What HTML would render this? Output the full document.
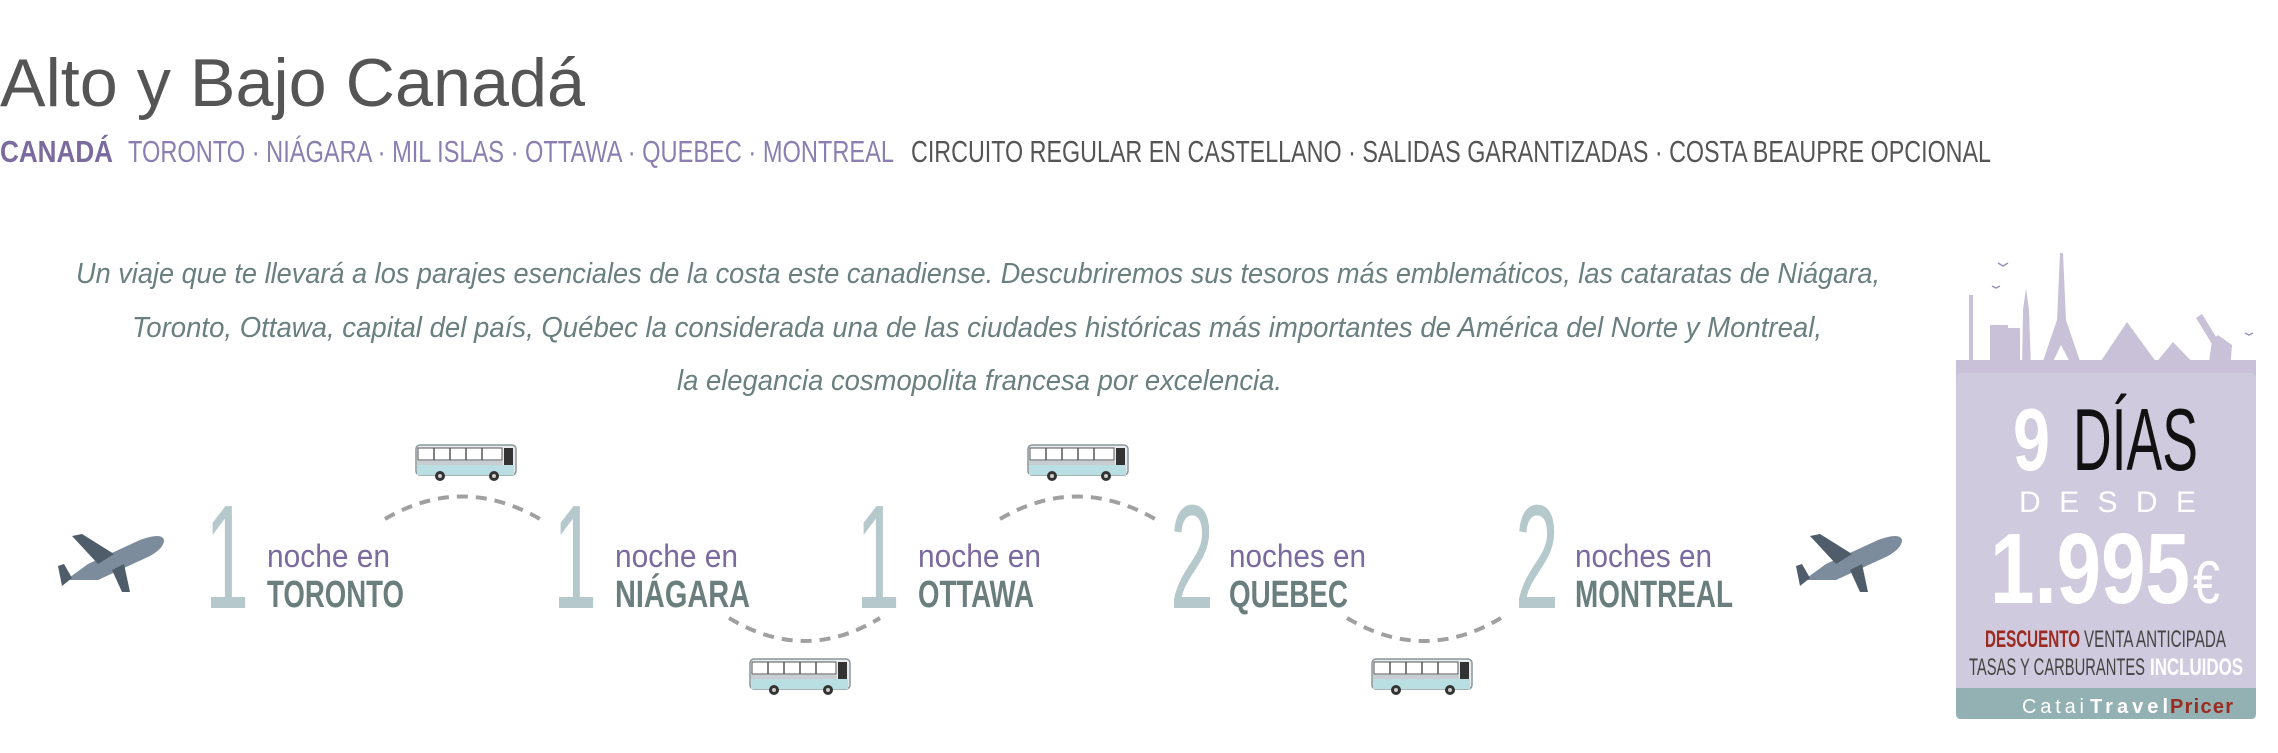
<!DOCTYPE html>
<html><head><meta charset="utf-8"><style>
html,body{margin:0;padding:0;background:#fff;}
svg{display:block}
</style></head><body>
<svg width="2278" height="753" viewBox="0 0 2278 753" xmlns="http://www.w3.org/2000/svg" font-family="Liberation Sans, sans-serif">
<defs>
<g id="bus">
  <rect x="2" y="2" width="100" height="30" rx="4" fill="#e8ecee" stroke="#8a9598" stroke-width="1.5"/>
  <rect x="4" y="5" width="84" height="12" fill="#fff" stroke="#555" stroke-width="1"/>
  <line x1="20" y1="5" x2="20" y2="17" stroke="#555" stroke-width="1.5"/>
  <line x1="36" y1="5" x2="36" y2="17" stroke="#555" stroke-width="1.5"/>
  <line x1="52" y1="5" x2="52" y2="17" stroke="#555" stroke-width="1.5"/>
  <line x1="68" y1="5" x2="68" y2="17" stroke="#555" stroke-width="1.5"/>
  <rect x="90" y="5" width="9" height="22" fill="#333"/>
  <rect x="3" y="18" width="86" height="4" fill="#c7cdd1"/>
  <rect x="3" y="22" width="97" height="10" fill="#b9dfe2"/>
  <circle cx="26" cy="33" r="5" fill="#333"/><circle cx="26" cy="33" r="2" fill="#ccc"/>
  <circle cx="80" cy="33" r="5" fill="#333"/><circle cx="80" cy="33" r="2" fill="#ccc"/>
</g>
<g id="plane">
  <path d="M8 46 L30 30 L82 6 Q104 -2 106 6 Q106 14 92 22 L40 46 Z" fill="#7c8c9c"/>
  <path d="M56 20 L24 0 L14 2 L40 30 Z" fill="#4f5d6b"/>
  <path d="M54 36 L64 58 L72 58 L66 30 Z" fill="#4f5d6b"/>
  <path d="M14 44 L6 30 L0 32 L4 52 Z" fill="#4f5d6b"/>
</g>
</defs>

<text x="0" y="106" font-size="68" fill="#555" textLength="585" lengthAdjust="spacingAndGlyphs">Alto y Bajo Canadá</text>
<text x="0" y="162" font-size="31" font-weight="bold" fill="#7a6a9e" textLength="113" lengthAdjust="spacingAndGlyphs">CANADÁ</text>
<text x="128" y="162" font-size="31" fill="#8a7fb0" textLength="766" lengthAdjust="spacingAndGlyphs">TORONTO · NIÁGARA · MIL ISLAS · OTTAWA · QUEBEC · MONTREAL</text>
<text x="911" y="162" font-size="31" fill="#555" textLength="1080" lengthAdjust="spacingAndGlyphs">CIRCUITO REGULAR EN CASTELLANO · SALIDAS GARANTIZADAS · COSTA BEAUPRE OPCIONAL</text>

<g font-size="29" font-style="italic" fill="#6a7f80">
<text x="76" y="283" textLength="1804" lengthAdjust="spacingAndGlyphs">Un viaje que te llevará a los parajes esenciales de la costa este canadiense. Descubriremos sus tesoros más emblemáticos, las cataratas de Niágara,</text>
<text x="132" y="337" textLength="1690" lengthAdjust="spacingAndGlyphs">Toronto, Ottawa, capital del país, Québec la considerada una de las ciudades históricas más importantes de América del Norte y Montreal,</text>
<text x="677" y="390" textLength="605" lengthAdjust="spacingAndGlyphs">la elegancia cosmopolita francesa por excelencia.</text>
</g>

<g fill="none" stroke="#a0a0a0" stroke-width="4" stroke-dasharray="11 8">
<path d="M385 519 Q462 474 540 519"/>
<path d="M1000 519 Q1077 474 1155 519"/>
<path d="M729 618 Q805 664 880 618"/>
<path d="M1347 618 Q1424 664 1501 618"/>
</g>

<use href="#bus" x="414" y="443"/>
<use href="#bus" x="1026" y="443"/>
<use href="#bus" x="748" y="657"/>
<use href="#bus" x="1370" y="657"/>

<use href="#plane" x="58" y="534"/>
<use href="#plane" x="1796" y="534"/>

<g font-size="148" fill="#b5c9cc">
<text x="205" y="608" textLength="44" lengthAdjust="spacingAndGlyphs">1</text>
<text x="553" y="608" textLength="44" lengthAdjust="spacingAndGlyphs">1</text>
<text x="856" y="608" textLength="44" lengthAdjust="spacingAndGlyphs">1</text>
<text x="1170" y="608" textLength="44" lengthAdjust="spacingAndGlyphs">2</text>
<text x="1515" y="608" textLength="44" lengthAdjust="spacingAndGlyphs">2</text>
</g>
<g font-size="32" fill="#7a6a9e">
<text x="267" y="567" textLength="123" lengthAdjust="spacingAndGlyphs">noche en</text>
<text x="615" y="567" textLength="123" lengthAdjust="spacingAndGlyphs">noche en</text>
<text x="918" y="567" textLength="123" lengthAdjust="spacingAndGlyphs">noche en</text>
<text x="1229" y="567" textLength="137" lengthAdjust="spacingAndGlyphs">noches en</text>
<text x="1575" y="567" textLength="137" lengthAdjust="spacingAndGlyphs">noches en</text>
</g>
<g font-size="38" font-weight="bold" fill="#6b7e7e">
<text x="267" y="607" textLength="137" lengthAdjust="spacingAndGlyphs">TORONTO</text>
<text x="615" y="607" textLength="135" lengthAdjust="spacingAndGlyphs">NIÁGARA</text>
<text x="918" y="607" textLength="116" lengthAdjust="spacingAndGlyphs">OTTAWA</text>
<text x="1229" y="607" textLength="119" lengthAdjust="spacingAndGlyphs">QUEBEC</text>
<text x="1575" y="607" textLength="158" lengthAdjust="spacingAndGlyphs">MONTREAL</text>
</g>

<g fill="#c8c1d8">
<rect x="1956" y="360" width="300" height="30"/>
<rect x="1969" y="295" width="4" height="70"/>
<rect x="1990" y="325" width="18" height="45"/>
<rect x="2004" y="328" width="16" height="45"/>
<polygon points="2022,370 2023,310 2026,288 2029,310 2031,370"/>
<polygon points="2040,370 2057,320 2060,253 2063,253 2066,320 2083,370 2074,370 2061,345 2049,370"/>
<polygon points="2095,370 2127,322 2162,370"/>
<polygon points="2150,370 2173,342 2200,370"/>
<polygon points="2208,370 2212,340 2218,335 2232,345 2230,370"/>
<polygon points="2196,318 2202,314 2218,340 2212,344"/>
<path d="M1998 263 l5 3 l5 -3 M1992 286 l4 2 l4 -2 M2245 333 l4 2 l4 -2" stroke="#9a8fbb" stroke-width="1.5" fill="none"/>
</g>
<rect x="1956" y="373" width="300" height="346" rx="5" fill="#d0cade"/>
<path d="M1956 688 H2256 V714 Q2256 719 2251 719 H1961 Q1956 719 1956 714 Z" fill="#93b0b3"/>
<text x="2013" y="470" font-size="88" font-weight="bold" fill="#fff" textLength="37" lengthAdjust="spacingAndGlyphs">9</text>
<text x="2073" y="470" font-size="88" fill="#111" textLength="125" lengthAdjust="spacingAndGlyphs">DÍAS</text>
<text x="2019" y="512" font-size="30" fill="#fff" textLength="177" lengthAdjust="spacing">DESDE</text>
<text x="1990" y="603" font-size="100" font-weight="bold" fill="#fff" textLength="200" lengthAdjust="spacingAndGlyphs">1.995</text>
<text x="2193" y="603" font-size="60" fill="#fff" textLength="27" lengthAdjust="spacingAndGlyphs">€</text>
<text x="1985" y="647" font-size="24" font-weight="bold" fill="#9b2a20" textLength="95" lengthAdjust="spacingAndGlyphs">DESCUENTO</text>
<text x="2084" y="647" font-size="24" fill="#444" textLength="142" lengthAdjust="spacingAndGlyphs">VENTA ANTICIPADA</text>
<text x="1969" y="675" font-size="24" fill="#444" textLength="176" lengthAdjust="spacingAndGlyphs">TASAS Y CARBURANTES</text>
<text x="2150" y="675" font-size="24" font-weight="bold" fill="#fff" textLength="93" lengthAdjust="spacingAndGlyphs">INCLUIDOS</text>
<text x="2022" y="713" font-size="20" fill="#fff" textLength="62" lengthAdjust="spacing">Catai</text>
<text x="2090" y="713" font-size="20" font-weight="bold" fill="#fff" textLength="78" lengthAdjust="spacing">Travel</text>
<text x="2170" y="713" font-size="20" font-weight="bold" fill="#9b2a20" textLength="63" lengthAdjust="spacing">Pricer</text>
</svg>
</body></html>
